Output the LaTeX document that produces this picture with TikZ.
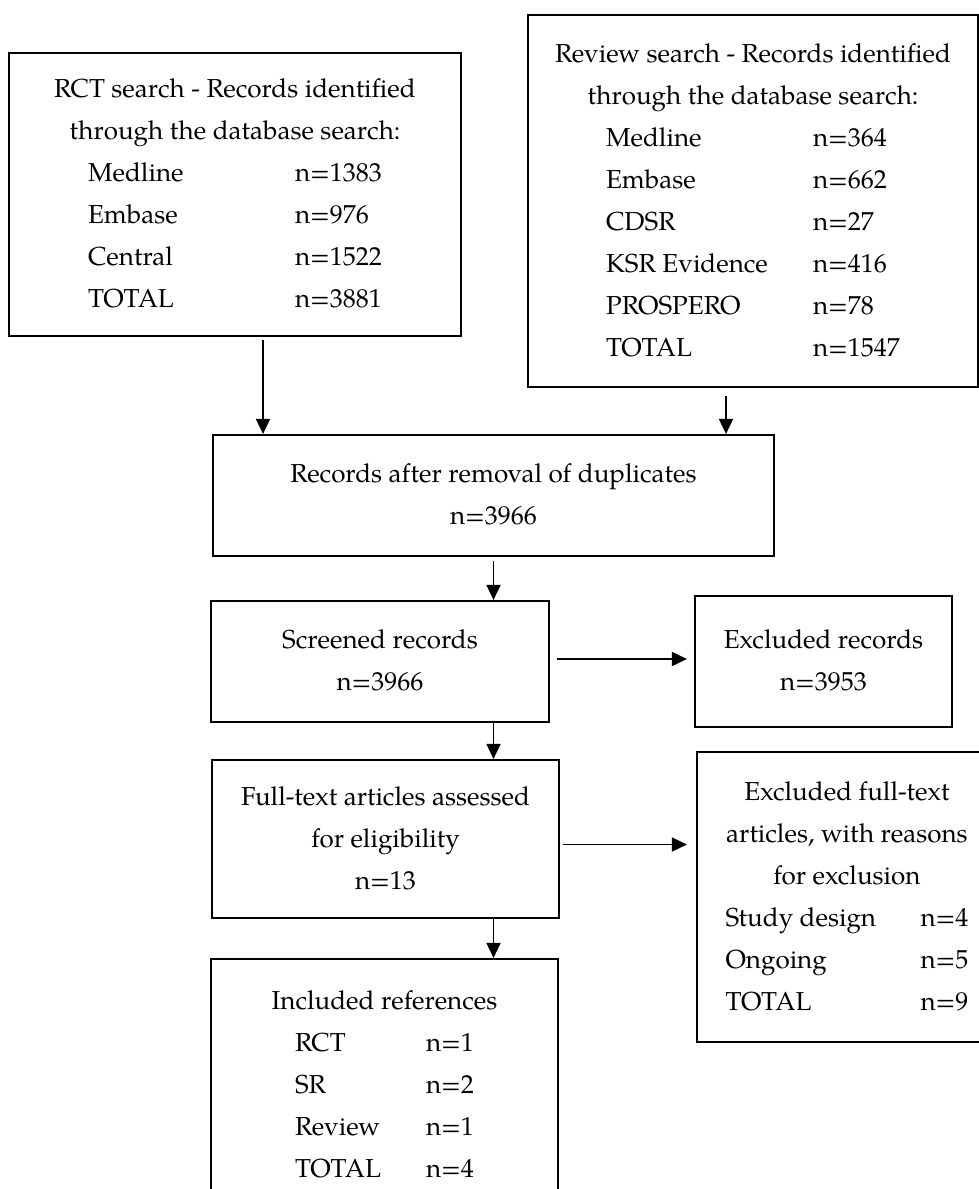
\documentclass[tikz,border=0pt]{standalone}
\usepackage{fontspec}
\setmainfont{TeX Gyre Pagella}
\usetikzlibrary{arrows.meta}
\tikzset{
  box/.style={draw, line width=1.1pt, inner sep=0pt, font=\fontsize{13}{21}\selectfont},
  arr/.style={line width=0.9pt, -{Triangle[width=7pt,length=7.5pt]}}
}

\begin{document}
\begin{tikzpicture}[x=0.5pt, y=-0.5pt]
  \useasboundingbox (0,0) rectangle (979,1189);
  \clip (0,0) rectangle (979,1189);

  % the two searches
  \node[box, minimum width=226pt, minimum height=141.5pt] (rct) at (235,194.5)
    {\begin{tabular}{@{}c@{}}
       RCT search - Records identified\\
       through the database search:\\
       \begin{tabular}[t]{@{}p{103.5pt}@{}l@{}}
         Medline & n=1383\\
         Embase  & n=976\\
         Central & n=1522\\
         TOTAL   & n=3881
       \end{tabular}
     \end{tabular}};
  \node[box, minimum width=225pt, minimum height=186pt] (rev) at (753,201)
    {\begin{tabular}{@{}c@{}}
       Review search - Records identified\\
       through the database search:\\
       \begin{tabular}[t]{@{}p{103.5pt}@{}l@{}}
         Medline      & n=364\\
         Embase       & n=662\\
         CDSR         & n=27\\
         KSR Evidence & n=416\\
         PROSPERO     & n=78\\
         TOTAL        & n=1547
       \end{tabular}
     \end{tabular}};

  % screening
  \node[box, minimum width=280.5pt, minimum height=60.5pt] (dedup) at (493.5,495.5)
    {\begin{tabular}{@{}c@{}}Records after removal of duplicates\\ n=3966\end{tabular}};
  \node[box, minimum width=169pt, minimum height=60.5pt] (screen) at (380,661.5)
    {\begin{tabular}{@{}c@{}}Screened records\\ n=3966\end{tabular}};
  \node[box, minimum width=128.5pt, minimum height=65.5pt] (exrec) at (823.5,661.5)
    {\begin{tabular}{@{}c@{}}Excluded records\\ n=3953\end{tabular}};

  % eligibility
  \node[box, minimum width=173.5pt, minimum height=79pt] (fulltext) at (385.5,839)
    {\begin{tabular}{@{}c@{}}Full-text articles assessed\\ for eligibility\\ n=13\end{tabular}};
  \node[box, minimum width=150pt, minimum height=145pt] (exfull) at (847,897)
    {\begin{tabular}{@{}c@{}}
       Excluded full-text\\
       articles, with reasons\\
       for exclusion\\
       \begin{tabular}[t]{@{}p{97.5pt}@{}l@{}}
         Study design & n=4\\
         Ongoing      & n=5\\
         TOTAL        & n=9
       \end{tabular}
     \end{tabular}};

  % included
  \node[box, minimum width=173.5pt, minimum height=126.5pt] (incl) at (384.5,1085.5)
    {\begin{tabular}{@{}c@{}}
       Included references\\
       \begin{tabular}[t]{@{}p{65.5pt}@{}l@{}}
         RCT    & n=1\\
         SR     & n=2\\
         Review & n=1\\
         TOTAL  & n=4
       \end{tabular}
     \end{tabular}};

  % arrows
  \coordinate (rctout) at ([xshift=14pt,yshift=-1.5pt]rct.south);
  \coordinate (revout) at ([xshift=-13.5pt,yshift=-4pt]rev.south);
  \coordinate (scrout) at ([xshift=3.5pt,yshift=1.25pt]screen.east);
  \coordinate (ftout) at ([xshift=1.5pt,yshift=-2.75pt]fulltext.east);
  \draw[arr] (rctout) -- (rctout |- dedup.north);
  \draw[arr] (revout) -- (revout |- dedup.north);
  \draw[arr] ([yshift=-2pt]dedup.south) -- (dedup.south |- screen.north);
  \draw[arr, shorten >=3.5pt] (scrout) -- (scrout -| exrec.west);
  \draw[arr] (screen.south -| dedup.south) -- (fulltext.north -| dedup.south);
  \draw[arr, shorten >=4.5pt] (ftout) -- (ftout -| exfull.west);
  \draw[arr] (fulltext.south -| dedup.south) -- (incl.north -| dedup.south);
\end{tikzpicture}
\end{document}
